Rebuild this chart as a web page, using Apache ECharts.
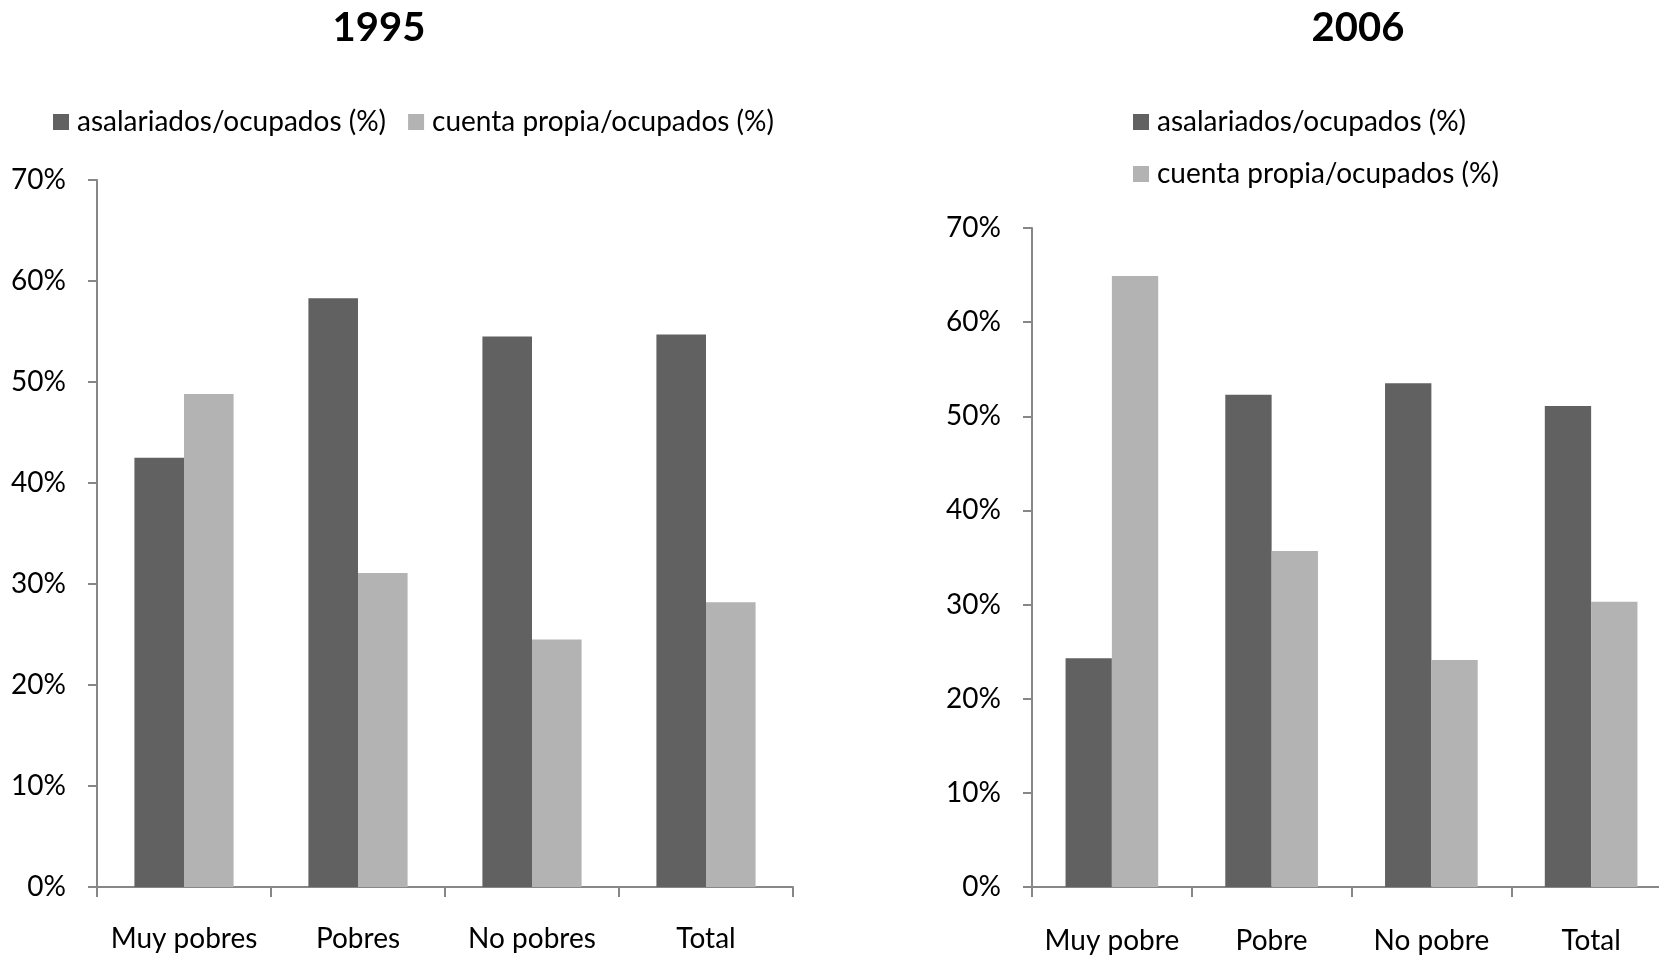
<!DOCTYPE html>
<html>
<head>
<meta charset="utf-8">
<script src="https://cdn.jsdelivr.net/npm/echarts@6/dist/echarts.min.js"></script>
<style>
html,body{margin:0;padding:0;background:#fff;}
#chart{width:1659px;height:956px;}
</style>
</head>
<body>
<div id="chart"></div>
<script>
var seriesNames = ['asalariados/ocupados (%)', 'cuenta propia/ocupados (%)'];
var categories1995 = ['Muy pobres', 'Pobres', 'No pobres', 'Total'];
var asalariados1995 = [42.5, 58.3, 54.5, 54.7];
var cuentaPropia1995 = [48.8, 31.1, 24.5, 28.2];
var categories2006 = ['Muy pobre', 'Pobre', 'No pobre', 'Total'];
var asalariados2006 = [24.3, 52.3, 53.5, 51.1];
var cuentaPropia2006 = [64.9, 35.7, 24.1, 30.3];
var yTicks = {min: 0, max: 70, interval: 10};

var FONT = 'Lato, "Liberation Sans", sans-serif';
var DARK = '#616161';
var LIGHT = '#b3b3b3';
var AXIS = '#878787';

function yAxis(gridIndex) {
  return {
    type: 'value', gridIndex: gridIndex,
    min: yTicks.min, max: yTicks.max, interval: yTicks.interval,
    axisLine: {show: true, lineStyle: {color: AXIS, width: 2}},
    axisTick: {show: true, length: 9, lineStyle: {color: AXIS, width: 2}},
    splitLine: {show: false},
    axisLabel: {formatter: '{value}%', fontSize: 28, fontFamily: FONT, color: '#000', margin: 31}
  };
}
function xAxis(gridIndex, cats, margin) {
  return {
    type: 'category', gridIndex: gridIndex, data: cats,
    axisLine: {show: true, lineStyle: {color: AXIS, width: 2}},
    axisTick: {show: true, length: 10, lineStyle: {color: AXIS, width: 2}},
    axisLabel: {interval: 0, fontSize: 28, fontFamily: FONT, color: '#000', margin: margin}
  };
}
var legendText = {fontSize: 28, fontFamily: FONT, color: '#000', lineHeight: 30, padding: [0, 0, 0, 3]};

var chart = echarts.init(document.getElementById('chart'));
chart.setOption({
  animation: false,
  backgroundColor: '#fff',
  title: [
    {text: '1995', left: 379, top: 8, textAlign: 'center', padding: 0,
     textStyle: {fontSize: 40, fontWeight: 'bold', fontFamily: FONT, color: '#000'}},
    {text: '2006', left: 1358, top: 8, textAlign: 'center', padding: 0,
     textStyle: {fontSize: 40, fontWeight: 'bold', fontFamily: FONT, color: '#000'}}
  ],
  legend: [
    {orient: 'horizontal', left: 53, top: 107, padding: 0, itemGap: 22,
     itemWidth: 16, itemHeight: 16, icon: 'rect',
     data: seriesNames, textStyle: legendText},
    {orient: 'vertical', left: 1133, top: 107, padding: 0, itemGap: 22,
     itemWidth: 16, itemHeight: 16, icon: 'rect',
     data: seriesNames, textStyle: legendText}
  ],
  grid: [
    {left: 97, top: 180, width: 696, bottom: 69, outerBoundsMode: 'none'},
    {left: 1032, top: 228, width: 639, bottom: 69, outerBoundsMode: 'none'}
  ],
  xAxis: [xAxis(0, categories1995, 38), xAxis(1, categories2006, 40)],
  yAxis: [yAxis(0), yAxis(1)],
  series: [
    {name: seriesNames[0], type: 'bar', xAxisIndex: 0, yAxisIndex: 0, data: asalariados1995,
     itemStyle: {color: DARK}, barGap: '0%', barCategoryGap: '43%'},
    {name: seriesNames[1], type: 'bar', xAxisIndex: 0, yAxisIndex: 0, data: cuentaPropia1995,
     itemStyle: {color: LIGHT}, barGap: '0%', barCategoryGap: '43%'},
    {name: seriesNames[0], type: 'bar', xAxisIndex: 1, yAxisIndex: 1, data: asalariados2006,
     itemStyle: {color: DARK}, barGap: '0%', barCategoryGap: '42%'},
    {name: seriesNames[1], type: 'bar', xAxisIndex: 1, yAxisIndex: 1, data: cuentaPropia2006,
     itemStyle: {color: LIGHT}, barGap: '0%', barCategoryGap: '42%'}
  ]
});
</script>
</body>
</html>
